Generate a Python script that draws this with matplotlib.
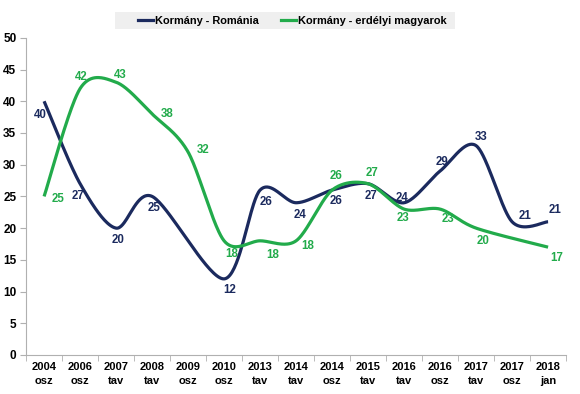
import numpy as np
import matplotlib
matplotlib.use("Agg")
import matplotlib.pyplot as plt
from matplotlib.lines import Line2D
from matplotlib.patches import Rectangle

plt.rcParams['font.family'] = ['Liberation Sans', 'DejaVu Sans']

years = ["2004", "2006", "2007", "2008", "2009", "2010", "2013", "2014", "2014",
         "2015", "2016", "2016", "2017", "2017", "2018"]
seasons = ["osz", "osz", "tav", "tav", "osz", "osz", "tav", "tav", "osz",
           "tav", "tav", "osz", "tav", "osz", "jan"]
romania = [40, 27, 20, 25, None, 12, 26, 24, 26, 27, 24, 29, 33, 21, 21]
magyar = [25, 42, 43, 38, 32, 18, 18, 18, 26, 27, 23, 23, 20, None, 17]

series_names = ["Kormány - Románia", "Kormány - erdélyi magyarok"]
colors = ["#1b2a5e", "#22ab4b"]

# label offsets in pixels (dx, dy)
off_rom = [(-4, -14), (-2, -12), (2, -12), (2, -12), None, (6, -11), (6, -12),
           (4, -12), (4, -11), (3, -12), (-2, 5), (2, 9), (5, 9), (13, 6), (7, 12)]
off_mag = [(14, -3), (1, 12), (4, 7), (15, 0), (15, 2), (8, -13), (13, -14),
           (12, -5), (4, 14), (4, 11), (-1, -9), (8, -10), (7, -13), None, (9, -11)]


def smooth(xs, ys, k=0.15, n=40):
    P = np.column_stack([xs, ys]).astype(float)
    out = []
    for i in range(len(P) - 1):
        p0 = P[i - 1] if i > 0 else P[i]
        p1 = P[i]
        p2 = P[i + 1]
        p3 = P[i + 2] if i + 2 < len(P) else P[i + 1]
        b1 = p1 + (p2 - p0) * k
        b2 = p2 - (p3 - p1) * k
        t = np.linspace(0, 1, n)[:, None]
        seg = ((1 - t) ** 3) * p1 + 3 * ((1 - t) ** 2) * t * b1 + 3 * (1 - t) * t ** 2 * b2 + t ** 3 * p2
        out.append(seg if i == 0 else seg[1:])
    s = np.vstack(out)
    return s[:, 0], s[:, 1]


fig = plt.figure(figsize=(5.8, 3.94), dpi=100)
ax = fig.add_axes([0.045, 0.099, 0.931, 0.805])

x = np.arange(len(years))
for vals, offs, col, name in [(romania, off_rom, colors[0], series_names[0]),
                              (magyar, off_mag, colors[1], series_names[1])]:
    xs = [xi for xi, v in zip(x, vals) if v is not None]
    ys = [v for v in vals if v is not None]
    sx, sy = smooth(xs, ys)
    ax.plot(sx, sy, color=col, lw=2.3, solid_capstyle='butt')
    for xi, v, o in zip(x, vals, offs):
        if v is None:
            continue
        ax.annotate(str(v), (xi, v), xytext=o, textcoords='offset pixels',
                    ha='center', va='center', fontsize=8.3, fontweight='bold', color=col)

ax.set_xlim(-0.5, len(years) - 0.5)
ax.set_ylim(0, 50)
ax.set_yticks(range(0, 51, 5))
ax.set_xticks(x)
ax.set_xticklabels([f"{a}\n{b}" for a, b in zip(years, seasons)], fontsize=8,
                   fontweight='bold', linespacing=1.45)
ax.set_xticks(np.arange(-0.5, len(years), 1), minor=True)
ax.tick_params(axis='x', which='major', length=0, pad=5)
ax.tick_params(axis='x', which='minor', length=4, color='#b0b0b0', direction='out')
ax.tick_params(axis='y', length=4, color='#b0b0b0', labelsize=8.5, pad=3)
for lab in ax.get_yticklabels():
    lab.set_fontweight('bold')
for s in ['top', 'right']:
    ax.spines[s].set_visible(False)
for s in ['left', 'bottom']:
    ax.spines[s].set_color('#b0b0b0')
    ax.spines[s].set_linewidth(0.8)

# legend background box
fig.patches.append(Rectangle((115 / 580, 1 - 29 / 394), 340 / 580, 17 / 394,
                             transform=fig.transFigure, facecolor='#efefef',
                             edgecolor='none', zorder=0))
handles = [Line2D([0], [0], color=c, lw=2.3) for c in colors]
leg = fig.legend(handles, series_names, loc='center', bbox_to_anchor=(292 / 580, 1 - 20.5 / 394),
                 ncol=2, frameon=False,
                 prop={'weight': 'bold', 'size': 7.9}, handlelength=1.4, handletextpad=0.15,
                 columnspacing=2.0, borderpad=0.2)

fig.savefig("out.png", dpi=100)
